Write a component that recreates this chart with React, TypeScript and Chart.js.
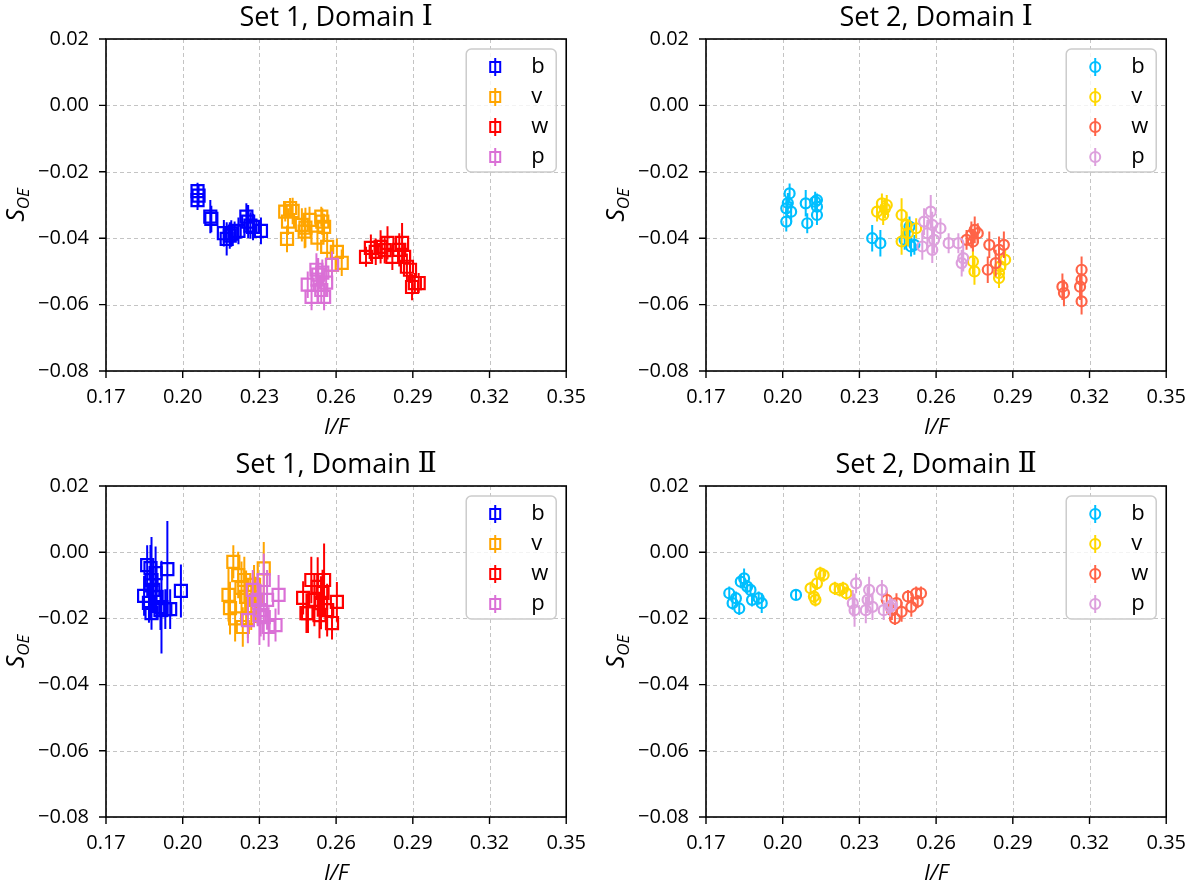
import { useEffect, useRef } from "react";
import { Chart, registerables } from "chart.js";

Chart.register(...registerables);

const FONT = "'Open Sans', sans-serif";

// axis ticks
const X_TICKS = [0.17, 0.2, 0.23, 0.26, 0.29, 0.32, 0.35];
const Y_TICKS = [-0.08, -0.06, -0.04, -0.02, 0, 0.02];

const LABELS = ["b", "v", "w", "p"];
const SET1_COLORS = ["#0000ff", "#ffa500", "#ff0000", "#da70d6"];
const SET2_COLORS = ["#00bfff", "#ffd700", "#ff6347", "#dda0dd"];

// Set 1, Domain I
const S1D1_B_X = [0.2058, 0.2062, 0.2058, 0.2108, 0.2112, 0.2161, 0.2172, 0.2184, 0.219, 0.2203, 0.2218, 0.2249, 0.2256, 0.2265, 0.2275, 0.2306];
const S1D1_B_Y = [-0.0258, -0.0272, -0.0285, -0.0335, -0.0342, -0.0385, -0.0402, -0.0392, -0.0386, -0.038, -0.0378, -0.0335, -0.035, -0.0362, -0.0366, -0.0378];
const S1D1_B_E = [0.0025, 0.003, 0.003, 0.005, 0.004, 0.004, 0.005, 0.004, 0.004, 0.003, 0.004, 0.004, 0.005, 0.004, 0.004, 0.004];
const S1D1_V_X = [0.2401, 0.242, 0.243, 0.2412, 0.2408, 0.2466, 0.248, 0.2496, 0.2477, 0.2542, 0.2546, 0.2553, 0.2527, 0.2565, 0.2603, 0.2584, 0.2622];
const S1D1_V_Y = [-0.032, -0.0309, -0.0318, -0.035, -0.0402, -0.036, -0.0368, -0.0345, -0.038, -0.0335, -0.035, -0.0366, -0.0398, -0.0426, -0.0441, -0.048, -0.0474];
const S1D1_V_E = [0.003, 0.003, 0.004, 0.004, 0.004, 0.005, 0.006, 0.004, 0.005, 0.003, 0.004, 0.004, 0.004, 0.004, 0.004, 0.005, 0.004];
const S1D1_W_X = [0.2717, 0.2736, 0.2755, 0.2774, 0.279, 0.2801, 0.282, 0.2847, 0.2858, 0.2866, 0.2877, 0.2889, 0.2908, 0.2923, 0.2897];
const S1D1_W_Y = [-0.0456, -0.0429, -0.0441, -0.0426, -0.0436, -0.0414, -0.0456, -0.0435, -0.0414, -0.0456, -0.0486, -0.0495, -0.0535, -0.0535, -0.0547];
const S1D1_W_E = [0.003, 0.004, 0.004, 0.005, 0.004, 0.005, 0.004, 0.005, 0.006, 0.004, 0.004, 0.004, 0.003, 0.003, 0.004];
const S1D1_P_X = [0.2489, 0.2504, 0.2523, 0.2527, 0.2542, 0.2553, 0.2546, 0.2561, 0.2584, 0.253];
const S1D1_P_Y = [-0.054, -0.0577, -0.0495, -0.0525, -0.0556, -0.0577, -0.0504, -0.0534, -0.048, -0.051];
const S1D1_P_E = [0.004, 0.004, 0.005, 0.004, 0.004, 0.004, 0.004, 0.004, 0.004, 0.005];

// Set 1, Domain II
const S1D2_B_X = [0.1861, 0.1849, 0.1874, 0.1878, 0.1885, 0.1868, 0.1878, 0.1894, 0.1898, 0.1913, 0.1917, 0.1932, 0.194, 0.1951, 0.1993, 0.1875];
const S1D2_B_Y = [-0.0039, -0.0132, -0.0048, -0.0084, -0.0114, -0.0153, -0.0184, -0.0063, -0.0135, -0.0175, -0.0166, -0.0172, -0.0051, -0.0172, -0.0117, -0.01];
const S1D2_B_E = [0.006, 0.006, 0.007, 0.013, 0.007, 0.006, 0.005, 0.008, 0.007, 0.006, 0.014, 0.006, 0.0145, 0.006, 0.008, 0.01];
const S1D2_V_X = [0.2198, 0.2179, 0.2185, 0.2217, 0.223, 0.2241, 0.2248, 0.2235, 0.2255, 0.2268, 0.2279, 0.2286, 0.2317, 0.2205];
const S1D2_V_Y = [-0.0029, -0.0129, -0.0169, -0.0069, -0.0108, -0.0084, -0.0135, -0.0226, -0.0199, -0.0165, -0.0099, -0.0144, -0.0049, -0.02];
const S1D2_V_E = [0.005, 0.008, 0.008, 0.007, 0.008, 0.007, 0.008, 0.006, 0.006, 0.007, 0.006, 0.007, 0.008, 0.007];
const S1D2_W_X = [0.2471, 0.2503, 0.2484, 0.2515, 0.2528, 0.2541, 0.2547, 0.2553, 0.2565, 0.2584, 0.2603, 0.249, 0.2535];
const S1D2_W_Y = [-0.0138, -0.0084, -0.0184, -0.0144, -0.0105, -0.0153, -0.0123, -0.0084, -0.0175, -0.0214, -0.015, -0.0184, -0.019];
const S1D2_W_E = [0.005, 0.007, 0.006, 0.008, 0.009, 0.008, 0.007, 0.011, 0.008, 0.005, 0.006, 0.006, 0.007];
const S1D2_P_X = [0.2274, 0.2255, 0.2293, 0.2305, 0.2317, 0.233, 0.2336, 0.2363, 0.2375, 0.2317, 0.23];
const S1D2_P_Y = [-0.0114, -0.0205, -0.0144, -0.0175, -0.0196, -0.0144, -0.0226, -0.022, -0.0129, -0.0084, -0.019];
const S1D2_P_E = [0.006, 0.007, 0.008, 0.008, 0.007, 0.009, 0.006, 0.005, 0.006, 0.008, 0.009];

// Set 2, Domain I
const S2D1_B_X = [0.2014, 0.2027, 0.202, 0.2014, 0.2033, 0.209, 0.2096, 0.2134, 0.2134, 0.2134, 0.2127, 0.235, 0.2382, 0.2477, 0.2496, 0.2515, 0.2502];
const S2D1_B_Y = [-0.031, -0.0265, -0.0294, -0.035, -0.032, -0.0295, -0.0355, -0.0285, -0.0305, -0.033, -0.029, -0.04, -0.0415, -0.0405, -0.0365, -0.042, -0.0425];
const S2D1_B_E = [0.003, 0.003, 0.003, 0.003, 0.003, 0.004, 0.003, 0.002, 0.003, 0.003, 0.003, 0.004, 0.004, 0.003, 0.003, 0.003, 0.003];
const S2D1_V_X = [0.2369, 0.2388, 0.24, 0.2393, 0.2407, 0.2465, 0.2465, 0.2484, 0.249, 0.2522, 0.2744, 0.275, 0.2846, 0.2851, 0.287, 0.2846];
const S2D1_V_Y = [-0.032, -0.0295, -0.031, -0.033, -0.03, -0.033, -0.041, -0.036, -0.0385, -0.037, -0.047, -0.05, -0.0505, -0.0485, -0.0465, -0.052];
const S2D1_V_E = [0.003, 0.003, 0.003, 0.003, 0.003, 0.005, 0.004, 0.004, 0.004, 0.003, 0.004, 0.004, 0.003, 0.003, 0.003, 0.003];
const S2D1_W_X = [0.2719, 0.2738, 0.2751, 0.2763, 0.2744, 0.2808, 0.2802, 0.2833, 0.2846, 0.2865, 0.3094, 0.31, 0.3169, 0.3169, 0.3163, 0.3169];
const S2D1_W_Y = [-0.0405, -0.039, -0.0375, -0.0385, -0.041, -0.042, -0.0495, -0.0475, -0.0435, -0.042, -0.0546, -0.0565, -0.0495, -0.0525, -0.0546, -0.059];
const S2D1_W_E = [0.003, 0.004, 0.004, 0.003, 0.003, 0.004, 0.004, 0.004, 0.004, 0.004, 0.004, 0.004, 0.004, 0.004, 0.004, 0.004];
const S2D1_P_X = [0.2553, 0.2566, 0.2579, 0.2585, 0.2592, 0.2585, 0.2617, 0.2546, 0.2649, 0.2687, 0.2706, 0.27];
const S2D1_P_Y = [-0.035, -0.0385, -0.032, -0.036, -0.0405, -0.0435, -0.037, -0.0425, -0.0415, -0.0415, -0.046, -0.0475];
const S2D1_P_E = [0.004, 0.004, 0.005, 0.004, 0.004, 0.004, 0.003, 0.004, 0.003, 0.003, 0.004, 0.004];

// Set 2, Domain II
const S2D2_B_X = [0.1791, 0.1804, 0.1817, 0.183, 0.1836, 0.1849, 0.1861, 0.1874, 0.188, 0.1906, 0.1918, 0.2052];
const S2D2_B_Y = [-0.0124, -0.0154, -0.0139, -0.017, -0.0089, -0.0079, -0.0104, -0.0114, -0.0144, -0.0139, -0.0154, -0.0129];
const S2D2_B_E = [0.002, 0.002, 0.002, 0.002, 0.002, 0.003, 0.002, 0.002, 0.002, 0.002, 0.003, 0.0015];
const S2D2_V_X = [0.2109, 0.2122, 0.2134, 0.2147, 0.216, 0.2128, 0.2204, 0.2223, 0.2236, 0.2249];
const S2D2_V_Y = [-0.0109, -0.0134, -0.0094, -0.0064, -0.0069, -0.0144, -0.0109, -0.0114, -0.0109, -0.0124];
const S2D2_V_E = [0.002, 0.002, 0.002, 0.002, 0.002, 0.002, 0.002, 0.002, 0.002, 0.002];
const S2D2_W_X = [0.2407, 0.2427, 0.2439, 0.2465, 0.249, 0.2503, 0.2522, 0.2528, 0.2541, 0.2445];
const S2D2_W_Y = [-0.0144, -0.0175, -0.02, -0.018, -0.0134, -0.0165, -0.0124, -0.0149, -0.0124, -0.0154];
const S2D2_W_E = [0.003, 0.003, 0.002, 0.003, 0.002, 0.003, 0.002, 0.002, 0.002, 0.003];
const S2D2_P_X = [0.2274, 0.2287, 0.2281, 0.2325, 0.2332, 0.2351, 0.2338, 0.2388, 0.2395, 0.242, 0.2427];
const S2D2_P_Y = [-0.0154, -0.0094, -0.0175, -0.0175, -0.0144, -0.0165, -0.0114, -0.0114, -0.0175, -0.0165, -0.016];
const S2D2_P_E = [0.004, 0.003, 0.005, 0.004, 0.004, 0.004, 0.004, 0.003, 0.003, 0.003, 0.002];

type Series = { x: number[]; y: number[]; e: number[] };

const fmt = (v: number) => {
  const s = Math.abs(v) < 1e-9 ? "0.00" : v.toFixed(2);
  return s.replace("-", "\u2212");
};

interface PanelProps {
  title: string;
  numeral: string;
  series: Series[];
  colors: string[];
  marker: "rect" | "circle";
  left: number;
  top: number;
  padTop: number;
  axisH: number;
}

const Panel = ({ title, numeral, series, colors, marker, left, top, padTop, axisH }: PanelProps) => {
  const canvasRef = useRef<HTMLCanvasElement | null>(null);

  useEffect(() => {
    if (!canvasRef.current) return;

    // vertical error bars, drawn just under each dataset's markers
    const errorBars = {
      id: "errorBars",
      beforeDatasetDraw(chart: any, args: any) {
        const ds = chart.data.datasets[args.index];
        const ys = chart.scales.y;
        const ctx = chart.ctx;
        ctx.save();
        ctx.strokeStyle = ds.borderColor;
        ctx.lineWidth = 2;
        ctx.beginPath();
        args.meta.data.forEach((el: any, i: number) => {
          const v = ds.data[i].y;
          ctx.moveTo(el.x, ys.getPixelForValue(v - ds.yErr[i]));
          ctx.lineTo(el.x, ys.getPixelForValue(v + ds.yErr[i]));
        });
        ctx.stroke();
        ctx.restore();
      },
    };

    const gridLines = {
      id: "gridLines",
      beforeDatasetsDraw(chart: any) {
        const { ctx, chartArea: a, scales } = chart;
        ctx.save();
        ctx.strokeStyle = "#c4c4c4";
        ctx.lineWidth = 1;
        ctx.setLineDash([4, 3]);
        ctx.beginPath();
        X_TICKS.forEach((v) => {
          const px = Math.round(scales.x.getPixelForValue(v)) + 0.5;
          ctx.moveTo(px, a.top);
          ctx.lineTo(px, a.bottom);
        });
        Y_TICKS.forEach((v) => {
          const py = Math.round(scales.y.getPixelForValue(v)) + 0.5;
          ctx.moveTo(a.left, py);
          ctx.lineTo(a.right, py);
        });
        ctx.stroke();
        ctx.restore();
      },
    };

    const frame = {
      id: "frame",
      afterDraw(chart: any) {
        const { ctx, chartArea: a, scales } = chart;
        ctx.save();
        // spines and tick marks
        ctx.strokeStyle = "#000";
        ctx.lineWidth = 1.6;
        ctx.strokeRect(a.left, a.top, a.right - a.left, a.bottom - a.top);
        ctx.lineWidth = 1.4;
        ctx.beginPath();
        X_TICKS.forEach((v) => {
          const px = scales.x.getPixelForValue(v);
          ctx.moveTo(px, a.bottom);
          ctx.lineTo(px, a.bottom + 7);
        });
        Y_TICKS.forEach((v) => {
          const py = scales.y.getPixelForValue(v);
          ctx.moveTo(a.left - 7, py);
          ctx.lineTo(a.left, py);
        });
        ctx.stroke();

        // title
        ctx.fillStyle = "#000";
        ctx.textBaseline = "middle";
        ctx.textAlign = "left";
        const tFont = `27px ${FONT}`;
        const nFont = `28px 'DejaVu Serif', serif`;
        ctx.font = tFont;
        const w1 = ctx.measureText(title + " ").width;
        ctx.font = nFont;
        const w2 = ctx.measureText(numeral).width;
        const tx = (a.left + a.right) / 2 - (w1 + w2) / 2;
        const ty = a.top - 21;
        ctx.font = tFont;
        ctx.fillText(title + " ", tx, ty);
        ctx.font = nFont;
        ctx.fillText(numeral, tx + w1, ty);

        // x label
        ctx.font = `italic 22px ${FONT}`;
        ctx.textAlign = "center";
        ctx.fillText("I/F", (a.left + a.right) / 2, a.bottom + 57);

        // y label S_OE
        ctx.save();
        ctx.translate(0, (a.top + a.bottom) / 2);
        ctx.rotate(-Math.PI / 2);
        ctx.textAlign = "left";
        ctx.textBaseline = "alphabetic";
        ctx.font = `italic 25px ${FONT}`;
        const sW = ctx.measureText("S").width;
        ctx.font = `italic 17px ${FONT}`;
        const oW = ctx.measureText("OE").width;
        const sx = -(sW + oW) / 2;
        ctx.font = `italic 25px ${FONT}`;
        ctx.fillText("S", sx, 24);
        ctx.font = `italic 17px ${FONT}`;
        ctx.fillText("OE", sx + sW, 29);
        ctx.restore();

        // legend
        const bw = 90;
        const bh = 123;
        const bx = a.right - 10 - bw;
        const by = a.top + 10;
        ctx.beginPath();
        ctx.roundRect(bx, by, bw, bh, 5);
        ctx.fillStyle = "rgba(255,255,255,0.8)";
        ctx.fill();
        ctx.strokeStyle = "#cccccc";
        ctx.lineWidth = 1.5;
        ctx.stroke();
        colors.forEach((c, i) => {
          const cy = by + 18 + i * 30;
          const cx = bx + 29;
          ctx.strokeStyle = c;
          ctx.lineWidth = 2;
          ctx.beginPath();
          ctx.moveTo(cx, cy - 9);
          ctx.lineTo(cx, cy + 9);
          ctx.stroke();
          ctx.beginPath();
          if (marker === "rect") ctx.rect(cx - 5, cy - 5, 10, 10);
          else ctx.arc(cx, cy, 5, 0, Math.PI * 2);
          ctx.stroke();
          ctx.fillStyle = "#000";
          ctx.font = `22px ${FONT}`;
          ctx.textAlign = "left";
          ctx.textBaseline = "middle";
          ctx.fillText(LABELS[i], bx + 65, cy);
        });
        ctx.restore();
      },
    };

    const datasets = series.map((s, i) => ({
      label: LABELS[i],
      data: s.x.map((x, j) => ({ x, y: s.y[j] })),
      yErr: s.e,
      order: series.length - i,
      borderColor: colors[i],
      backgroundColor: "rgba(0,0,0,0)",
      pointStyle: marker,
      pointRadius: marker === "rect" ? 8.5 : 5,
      pointBorderWidth: 2.2,
      pointBorderColor: colors[i],
      pointBackgroundColor: "rgba(0,0,0,0)",
      showLine: false,
    }));

    const tickFont = { family: FONT, size: 20 };

    const chart = new Chart(canvasRef.current, {
      type: "scatter",
      data: { datasets } as any,
      options: {
        responsive: false,
        animation: false,
        events: [],
        layout: { padding: { top: padTop, right: 22, bottom: 0, left: 0 } },
        plugins: { legend: { display: false }, tooltip: { enabled: false } },
        scales: {
          x: {
            type: "linear",
            min: 0.17,
            max: 0.35,
            afterBuildTicks: (s: any) => {
              s.ticks = X_TICKS.map((v) => ({ value: v }));
            },
            afterFit: (s: any) => {
              s.height = axisH;
            },
            grid: { display: false, drawTicks: false },
            border: { display: false },
            ticks: {
              padding: 14,
              color: "#000",
              font: tickFont,
              maxRotation: 0,
              autoSkip: false,
              callback: (v: any) => fmt(Number(v)),
            },
          },
          y: {
            type: "linear",
            min: -0.08,
            max: 0.02,
            afterBuildTicks: (s: any) => {
              s.ticks = Y_TICKS.map((v) => ({ value: v }));
            },
            afterFit: (s: any) => {
              s.width = 106;
            },
            grid: { display: false, drawTicks: false },
            border: { display: false },
            ticks: {
              padding: 17,
              color: "#000",
              font: tickFont,
              autoSkip: false,
              callback: (v: any) => fmt(Number(v)),
            },
          },
        },
      },
      plugins: [gridLines, errorBars, frame],
    });

    return () => {
      chart.destroy();
    };
  }, []);

  return (
    <canvas
      ref={canvasRef}
      width={600}
      height={443}
      style={{ position: "absolute", left, top, width: 600, height: 443 }}
    />
  );
};

const S1D1: Series[] = [
  { x: S1D1_B_X, y: S1D1_B_Y, e: S1D1_B_E },
  { x: S1D1_V_X, y: S1D1_V_Y, e: S1D1_V_E },
  { x: S1D1_W_X, y: S1D1_W_Y, e: S1D1_W_E },
  { x: S1D1_P_X, y: S1D1_P_Y, e: S1D1_P_E },
];
const S1D2: Series[] = [
  { x: S1D2_B_X, y: S1D2_B_Y, e: S1D2_B_E },
  { x: S1D2_V_X, y: S1D2_V_Y, e: S1D2_V_E },
  { x: S1D2_W_X, y: S1D2_W_Y, e: S1D2_W_E },
  { x: S1D2_P_X, y: S1D2_P_Y, e: S1D2_P_E },
];
const S2D1: Series[] = [
  { x: S2D1_B_X, y: S2D1_B_Y, e: S2D1_B_E },
  { x: S2D1_V_X, y: S2D1_V_Y, e: S2D1_V_E },
  { x: S2D1_W_X, y: S2D1_W_Y, e: S2D1_W_E },
  { x: S2D1_P_X, y: S2D1_P_Y, e: S2D1_P_E },
];
const S2D2: Series[] = [
  { x: S2D2_B_X, y: S2D2_B_Y, e: S2D2_B_E },
  { x: S2D2_V_X, y: S2D2_V_Y, e: S2D2_V_E },
  { x: S2D2_W_X, y: S2D2_W_Y, e: S2D2_W_E },
  { x: S2D2_P_X, y: S2D2_P_Y, e: S2D2_P_E },
];

export default function App() {
  return (
    <div style={{ position: "absolute", left: 0, top: 0, width: 1200, height: 886, background: "#fff" }}>
      <Panel title="Set 1, Domain" numeral={"\u2160"} series={S1D1} colors={SET1_COLORS} marker="rect" left={0} top={0} padTop={39} axisH={72} />
      <Panel title="Set 2, Domain" numeral={"\u2160"} series={S2D1} colors={SET2_COLORS} marker="circle" left={600} top={0} padTop={39} axisH={72} />
      <Panel title="Set 1, Domain" numeral={"\u2161"} series={S1D2} colors={SET1_COLORS} marker="rect" left={0} top={443} padTop={43} axisH={69} />
      <Panel title="Set 2, Domain" numeral={"\u2161"} series={S2D2} colors={SET2_COLORS} marker="circle" left={600} top={443} padTop={43} axisH={69} />
    </div>
  );
}
